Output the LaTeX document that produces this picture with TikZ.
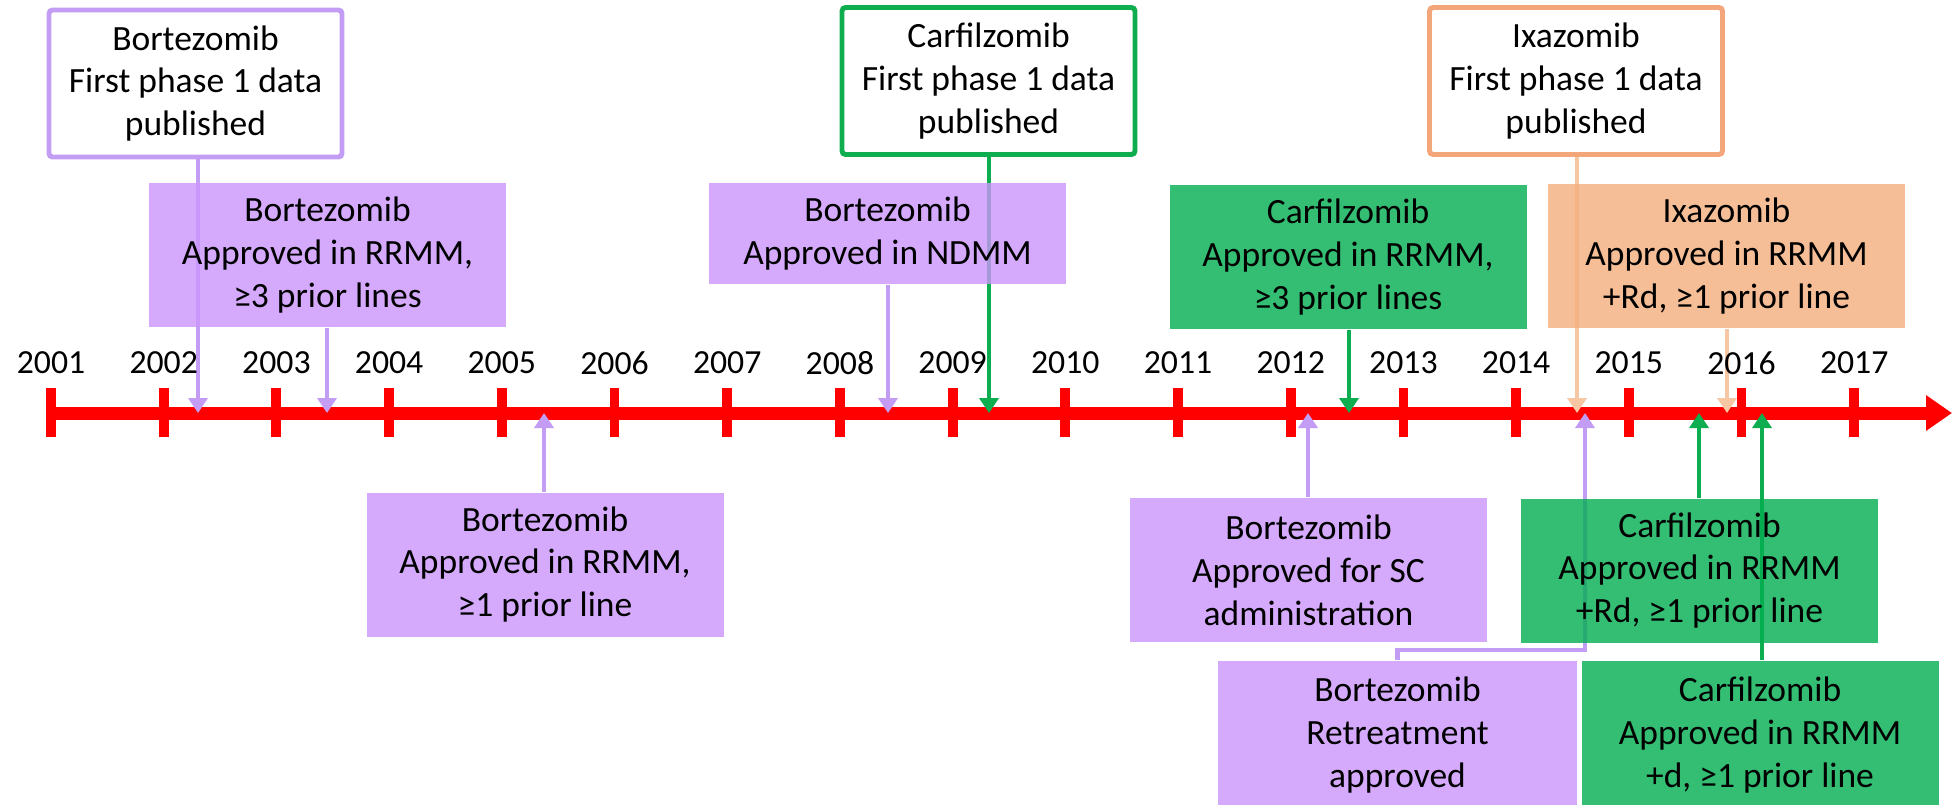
\documentclass[tikz,border=0pt]{standalone}
\usepackage{fontspec}
\setmainfont{Carlito}
\usepackage{tikz}
\usetikzlibrary{arrows.meta,backgrounds}
\definecolor{axisred}{HTML}{FF0000}
\definecolor{purpx}{HTML}{C39CF4}
\definecolor{purpfill}{HTML}{CB95FB}
\definecolor{greenx}{HTML}{0EAD50}
\definecolor{greenfill}{HTML}{01AE50}
\definecolor{peachx}{HTML}{F2A679}
\definecolor{peachar}{HTML}{F7C7A3}
\definecolor{peachfill}{HTML}{F2AE7D}
\tikzset{
  ev/.style={line width=1.4pt,-{Triangle[length=1.5mm,width=1.9mm]}},
  firstbox/.style={draw=#1,line width=1.4pt,fill=white,rounded corners=1pt,align=center,
    minimum width=2.93cm,minimum height=1.47cm,inner sep=0pt},
  appbox/.style={fill=#1,fill opacity=0.8,text opacity=1,align=center,
    minimum width=3.57cm,minimum height=1.44cm,inner sep=0pt},
  yearlbl/.style={font=\fontsize{9.6}{11}\selectfont,inner sep=0pt}
}

\begin{document}
\begin{tikzpicture}[font=\fontsize{10.1}{12.2}\selectfont]
\useasboundingbox (0,-3.91) rectangle (19.52,4.13);
\def\dx{1.127}
% first phase 1 data
\node[firstbox=purpx] (bfirst) at (1.955,3.295) {Bortezomib\\First phase 1 data\\published};
\node[firstbox=greenx] (cfirst) at (9.885,3.32) {Carfilzomib\\First phase 1 data\\published};
\node[firstbox=peachx] (ifirst) at (15.76,3.32) {Ixazomib\\First phase 1 data\\published};
% approvals above the axis
\node[appbox=purpfill] (bthree) at (3.275,1.58) {Bortezomib\\Approved in RRMM,\\≥3 prior lines};
\node[appbox=purpfill,minimum height=1.01cm] (bnd) at (8.875,1.795) {Bortezomib\\Approved in NDMM};
\node[appbox=greenfill] (cthree) at (13.48,1.56) {Carfilzomib\\Approved in RRMM,\\≥3 prior lines};
\node[appbox=peachfill] (iapp) at (17.265,1.57) {Ixazomib\\Approved in RRMM\\+Rd, ≥1 prior line};
% approvals below the axis
\node[appbox=purpfill] (bone) at (5.45,-1.515) {Bortezomib\\Approved in RRMM,\\≥1 prior line};
\node[appbox=purpfill] (bsc) at (13.085,-1.57) {Bortezomib\\Approved for SC\\administration};
\node[appbox=greenfill] (crd) at (16.995,-1.575) {Carfilzomib\\Approved in RRMM\\+Rd, ≥1 prior line};
\node[appbox=purpfill,minimum width=3.59cm,minimum height=1.48cm] (bre) at (13.975,-3.22) {Bortezomib\\Retreatment\\approved};
\node[appbox=greenfill,minimum height=1.48cm] (cd) at (17.60,-3.22) {Carfilzomib\\Approved in RRMM\\+d, ≥1 prior line};

\coordinate (tstart) at (0.46,0);
\coordinate (tend) at (19.52,0);
\foreach \n in {0,...,16}{
  \pgfmathtruncatemacro\yy{2001+\n}
  \node[yearlbl] (y\yy) at (0.51+\n*\dx,0.50) {\yy};
}
\foreach \x/\nm in {1.98/e1,3.27/e2,5.44/e3,8.88/e4,9.89/e5,13.08/e6,13.49/e7,15.77/e8,17.27/e9,15.85/e10,16.99/e11,17.62/e12}
  \coordinate (\nm) at (\x,0);
\coordinate (k10) at (15.85,-2.37);

\begin{pgfonlayer}{background}
\draw[axisred,line width=3.7pt,-{Triangle[length=2.6mm,width=3.4mm]}] (tstart) -- (tend);
\foreach \n in {0,...,16}
  \draw[axisred,line width=2.8pt] (0.51+\n*\dx,0.25) -- (0.51+\n*\dx,-0.24);
\draw[ev,purpx] (bfirst.south -| e1) -- (e1);
\draw[ev,purpx] (bthree.south -| e2) -- (e2);
\draw[ev,purpx] (bone.north -| e3) -- (e3);
\draw[ev,purpx] (bnd.south -| e4) -- (e4);
\draw[ev,greenx] (cfirst.south -| e5) -- (e5);
\draw[ev,purpx] (bsc.north -| e6) -- (e6);
\draw[ev,greenx] (cthree.south -| e7) -- (e7);
\draw[ev,peachar] (ifirst.south -| e8) -- (e8);
\draw[ev,peachar] (iapp.south -| e9) -- (e9);
\draw[ev,purpx] (bre.north) |- (k10) -- (e10);
\draw[ev,greenx] (crd.north -| e11) -- (e11);
\draw[ev,greenx] (cd.north -| e12) -- (e12);
\end{pgfonlayer}
\end{tikzpicture}
\end{document}
